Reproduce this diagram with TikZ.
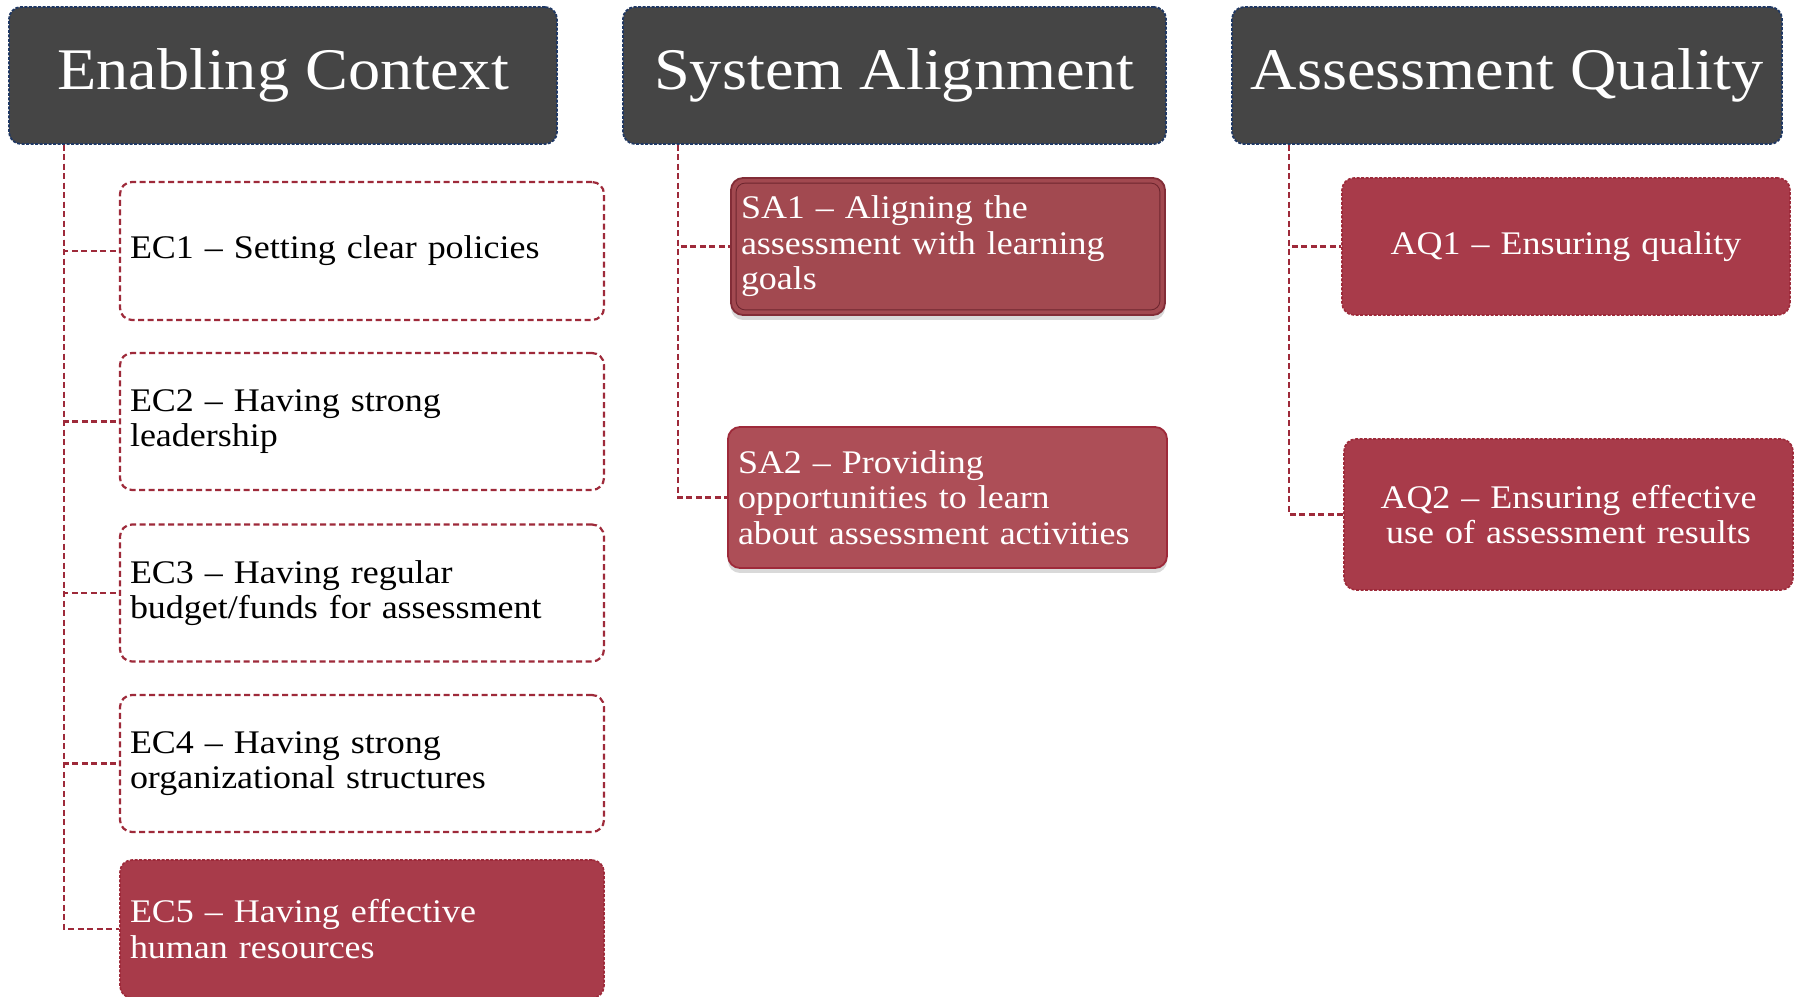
\documentclass[tikz,border=0pt]{standalone}
\usepackage{fontspec}
\setmainfont{Liberation Serif}[FakeStretch=1.09]
\usetikzlibrary{shadows}
\definecolor{hdrfill}{RGB}{69,69,69}
\definecolor{hdrline}{RGB}{31,56,100}
\definecolor{redfill}{RGB}{168,59,74}
\definecolor{safillA}{RGB}{162,73,80}
\definecolor{safillB}{RGB}{173,78,87}
\definecolor{saline}{RGB}{130,45,55}
\definecolor{conred}{RGB}{158,42,58}
\tikzset{
  hdr/.style={rounded corners=12pt, fill=hdrfill, draw=hdrline, line width=1.8pt, dash pattern=on 3pt off 1.5pt, text=white, font=\fontsize{59}{62}\selectfont, minimum height=137pt, inner sep=0pt},
  itembox/.style={rounded corners=12pt, draw=conred, line width=2.2pt, dash pattern=on 6pt off 3.5pt, inner xsep=10pt, inner ysep=0pt, font=\fontsize{33}{35.5}\selectfont, align=left},
  wbox/.style={itembox, fill=white, text=black},
  rbox/.style={itembox, fill=redfill, text=white, line width=1.6pt, dash pattern=on 3pt off 1.5pt},
  sabox/.style={rounded corners=12pt, draw=saline, line width=1.8pt, text=white, inner xsep=10pt, inner ysep=0pt, font=\fontsize{33}{35.5}\selectfont, align=left, drop shadow={shadow xshift=0pt, shadow yshift=-5pt, opacity=0.3}},
  conn/.style={draw=conred, line width=2.2pt, dash pattern=on 6pt off 3.5pt}
}
\begin{document}
\begin{tikzpicture}[x=1pt,y=1pt]
\useasboundingbox (0,0) rectangle (1796,996);
% headers
\node[hdr, minimum width=548pt] (ech) at (283,920.5) {\raisebox{-4pt}{Enabling Context}};
\node[hdr, minimum width=543pt] (sah) at (894.5,920.5) {\raisebox{-4pt}{System Alignment}};
\node[hdr, minimum width=550pt] (aqh) at (1507,920.5) {\raisebox{-4pt}{Assessment Quality}};
% Enabling context items
\node[wbox, minimum width=484pt, minimum height=138pt, text width=464pt] (ec1) at (362,745) {EC1 – Setting clear policies};
\node[wbox, minimum width=484pt, minimum height=137pt, text width=464pt] (ec2) at (362,574.5) {EC2 – Having strong\\leadership};
\node[wbox, minimum width=484pt, minimum height=137pt, text width=464pt] (ec3) at (362,403) {EC3 – Having regular\\budget/funds for assessment};
\node[wbox, minimum width=484pt, minimum height=137pt, text width=464pt] (ec4) at (362,232.5) {EC4 – Having strong\\organizational structures};
\node[rbox, minimum width=484pt, minimum height=138pt, text width=464pt] (ec5) at (362,67) {EC5 – Having effective\\human resources};
% System alignment items
\node[sabox, fill=safillA, minimum width=434pt, minimum height=137pt, text width=414pt] (sa1) at (948,749.5) {SA1 – Aligning the\\assessment with learning\\goals};
\draw[saline!85!black, line width=0.9pt, rounded corners=9pt] ([shift={(6pt,6pt)}]sa1.south west) rectangle ([shift={(-6pt,-6pt)}]sa1.north east);
\node[sabox, fill=safillB, draw=conred, minimum width=439pt, minimum height=141pt, text width=419pt] (sa2) at (947.5,498.5) {SA2 – Providing\\opportunities to learn\\about assessment activities};
% Assessment quality items
\node[rbox, align=center, minimum width=448pt, minimum height=137pt, text width=428pt] (aq1) at (1566,749.5) {AQ1 – Ensuring quality};
\node[rbox, align=center, minimum width=449pt, minimum height=151pt, text width=429pt] (aq2) at (1568.5,481.5) {AQ2 – Ensuring effective\\use of assessment results};
% connectors
\coordinate (ecx) at (64,0);
\coordinate (sax) at (678,0);
\coordinate (aqx) at (1289,0);
\foreach \n in {ec1,ec2,ec3,ec4,ec5}{\draw[conn] (ech.south -| ecx) |- (\n.west);}
\foreach \n in {sa1,sa2}{\draw[conn] (sah.south -| sax) |- (\n.west);}
\foreach \n in {aq1,aq2}{\draw[conn] (aqh.south -| aqx) |- (\n.west);}
\end{tikzpicture}
\end{document}
